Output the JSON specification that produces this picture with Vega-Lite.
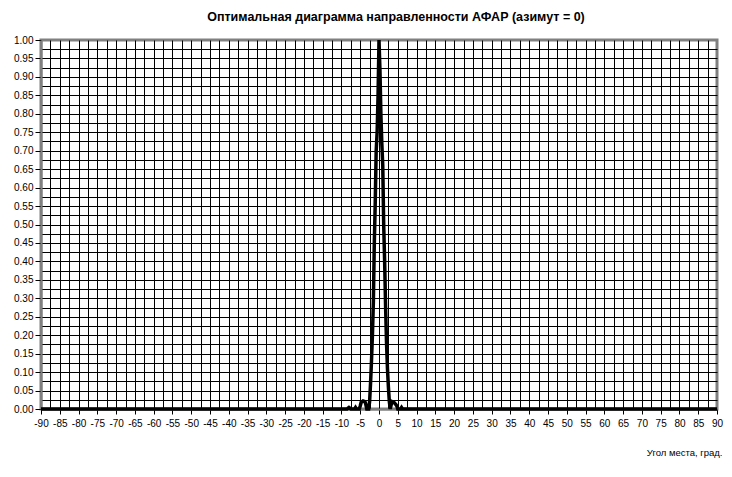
{
  "$schema": "https://vega.github.io/schema/vega-lite/v6.json",
  "width": 676,
  "height": 369,
  "autosize": {"type": "none"},
  "padding": {"left": 41, "top": 40, "right": 15, "bottom": 68},
  "background": "white",
  "config": {
    "font": "Liberation Sans",
    "view": {"stroke": "#808080", "strokeWidth": 3, "fill": "white"}
  },
  "title": {
    "text": "Оптимальная диаграмма направленности АФАР (азимут = 0)",
    "font": "Liberation Sans",
    "fontSize": 12.5,
    "fontWeight": "bold",
    "color": "black",
    "anchor": "middle",
    "dx": 17,
    "baseline": "alphabetic",
    "offset": 0
  },
  "data": {
    "values": [
      {"angle": -90, "gain": 0},
      {"angle": -10, "gain": 0},
      {"angle": -8.5, "gain": 0},
      {"angle": -8, "gain": 0.004},
      {"angle": -7.5, "gain": 0},
      {"angle": -6.5, "gain": 0},
      {"angle": -6.25, "gain": 0.004},
      {"angle": -6, "gain": 0},
      {"angle": -5.25, "gain": 0},
      {"angle": -5, "gain": 0.008},
      {"angle": -4.75, "gain": 0.018},
      {"angle": -4.25, "gain": 0.022},
      {"angle": -3.75, "gain": 0.02},
      {"angle": -3.5, "gain": 0.012},
      {"angle": -3.25, "gain": 0},
      {"angle": -2.75, "gain": 0},
      {"angle": -2.5, "gain": 0.02},
      {"angle": -2.25, "gain": 0.07},
      {"angle": -2.0, "gain": 0.13},
      {"angle": -1.75, "gain": 0.2},
      {"angle": -1.5, "gain": 0.29},
      {"angle": -1.25, "gain": 0.45},
      {"angle": -1.0, "gain": 0.56},
      {"angle": -0.75, "gain": 0.7},
      {"angle": -0.5, "gain": 0.75},
      {"angle": -0.25, "gain": 0.85},
      {"angle": 0, "gain": 1.0},
      {"angle": 0.25, "gain": 0.92},
      {"angle": 0.5, "gain": 0.8},
      {"angle": 0.75, "gain": 0.72},
      {"angle": 1.0, "gain": 0.66},
      {"angle": 1.25, "gain": 0.5},
      {"angle": 1.5, "gain": 0.4},
      {"angle": 1.75, "gain": 0.28},
      {"angle": 2.0, "gain": 0.18},
      {"angle": 2.25, "gain": 0.11},
      {"angle": 2.5, "gain": 0.06},
      {"angle": 2.75, "gain": 0.02},
      {"angle": 3.0, "gain": 0},
      {"angle": 3.25, "gain": 0.012},
      {"angle": 3.5, "gain": 0.02},
      {"angle": 4.0, "gain": 0.018},
      {"angle": 4.5, "gain": 0.012},
      {"angle": 4.75, "gain": 0.008},
      {"angle": 5.0, "gain": 0},
      {"angle": 5.75, "gain": 0},
      {"angle": 6.0, "gain": 0.004},
      {"angle": 6.25, "gain": 0},
      {"angle": 7.5, "gain": 0},
      {"angle": 10, "gain": 0},
      {"angle": 90, "gain": 0}
    ]
  },
  "layer": [
    {
      "mark": {"type": "line", "opacity": 0},
      "encoding": {
        "x": {
          "field": "angle", "type": "quantitative",
          "scale": {"domain": [-90, 90], "nice": false, "zero": false},
          "axis": {
            "orient": "bottom",
            "values": [-87.5,-85,-82.5,-80,-77.5,-75,-72.5,-70,-67.5,-65,-62.5,-60,-57.5,-55,-52.5,-50,-47.5,-45,-42.5,-40,-37.5,-35,-32.5,-30,-27.5,-25,-22.5,-20,-17.5,-15,-12.5,-10,-7.5,-5,-2.5,0,2.5,5,7.5,10,12.5,15,17.5,20,22.5,25,27.5,30,32.5,35,37.5,40,42.5,45,47.5,50,52.5,55,57.5,60,62.5,65,67.5,70,72.5,75,77.5,80,82.5,85,87.5],
            "grid": true, "gridColor": "black", "gridWidth": 1, "gridOpacity": 1,
            "labels": false, "ticks": false, "domain": false, "title": null
          }
        },
        "y": {
          "field": "gain", "type": "quantitative",
          "scale": {"domain": [0, 1], "nice": false},
          "axis": {
            "orient": "left",
            "values": [0.025,0.05,0.075,0.1,0.125,0.15,0.175,0.2,0.225,0.25,0.275,0.3,0.325,0.35,0.375,0.4,0.425,0.45,0.475,0.5,0.525,0.55,0.575,0.6,0.625,0.65,0.675,0.7,0.725,0.75,0.775,0.8,0.825,0.85,0.875,0.9,0.925,0.95,0.975],
            "grid": true, "gridColor": "black", "gridWidth": 1, "gridOpacity": 1,
            "labels": false, "ticks": false, "domain": false, "title": null
          }
        }
      }
    },
    {
      "mark": {"type": "line", "color": "black", "strokeWidth": 3.5, "strokeJoin": "miter", "clip": false},
      "encoding": {
        "x": {
          "field": "angle", "type": "quantitative",
          "scale": {"domain": [-90, 90], "nice": false, "zero": false},
          "axis": {
            "orient": "bottom",
            "values": [-90,-85,-80,-75,-70,-65,-60,-55,-50,-45,-40,-35,-30,-25,-20,-15,-10,-5,0,5,10,15,20,25,30,35,40,45,50,55,60,65,70,75,80,85,90],
            "labelExpr": "'' + datum.value",
            "grid": false,
            "domain": true, "domainColor": "#808080", "domainWidth": 2,
            "ticks": true, "tickColor": "black", "tickSize": 5, "tickWidth": 1,
            "labelFont": "Liberation Sans", "labelFontSize": 10, "labelColor": "black",
            "labelPadding": 4, "labelFlush": false, "labelOverlap": false,
            "title": "Угол места, град.",
            "titleFont": "Liberation Sans", "titleFontSize": 9.5, "titleFontWeight": "normal",
            "titleColor": "black",
            "titleAnchor": "end", "titleAlign": "right", "titleBaseline": "middle",
            "titleX": 681, "titleY": 43
          }
        },
        "y": {
          "field": "gain", "type": "quantitative",
          "scale": {"domain": [0, 1], "nice": false},
          "axis": {
            "orient": "left",
            "values": [0,0.05,0.1,0.15,0.2,0.25,0.3,0.35,0.4,0.45,0.5,0.55,0.6,0.65,0.7,0.75,0.8,0.85,0.9,0.95,1],
            "format": ".2f",
            "grid": false,
            "domain": true, "domainColor": "#808080", "domainWidth": 2,
            "ticks": true, "tickColor": "black", "tickSize": 6, "tickWidth": 1,
            "labelFont": "Liberation Sans", "labelFontSize": 10, "labelColor": "black",
            "labelPadding": 2, "labelFlush": false, "labelOverlap": false,
            "title": null
          }
        }
      }
    }
  ],
  "resolve": {"axis": {"x": "independent", "y": "independent"}}
}
